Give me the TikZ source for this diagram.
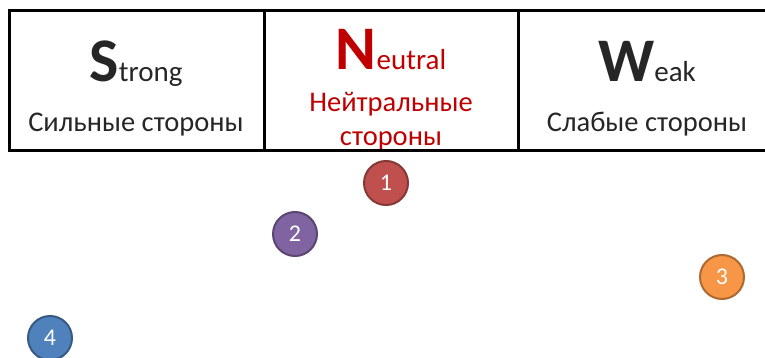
\documentclass[tikz,border=0pt]{standalone}
\usepackage{fontspec}
\setmainfont{Carlito}
\definecolor{txtgray}{HTML}{262626}
\definecolor{neutralred}{HTML}{C00000}
\definecolor{badgered}{HTML}{C0504D}
\definecolor{badgepurple}{HTML}{8064A2}
\definecolor{badgeorange}{HTML}{F79646}
\definecolor{badgeblue}{HTML}{4F81BD}
\newcommand{\bigletter}[1]{{\fontsize{62}{62}\selectfont\bfseries #1}}
\newcommand{\smallword}{\fontsize{29}{29}\selectfont}
\begin{document}
\begin{tikzpicture}[x=1pt,y=-1pt,
  head/.style={anchor=base,inner sep=0pt,text=txtgray},
  subtitle/.style={anchor=base,inner sep=0pt,text=txtgray,font=\fontsize{28.5}{28.5}\selectfont},
  badge/.style={circle,draw=#1!70!black,fill=#1,line width=2pt,minimum size=44pt,
    inner sep=0pt,text=white,font=\fontsize{24}{24}\selectfont}]
  \useasboundingbox (0,0) rectangle (765,358);
  % column headings
  \node[head] (strong) at (136,82) {\bigletter{S}\smallword trong};
  \node[subtitle] (strongsub) at (136,132) {Сильные стороны};
  \node[head,text=neutralred] (neutral) at (391,70) {\bigletter{N}\smallword eutral};
  \node[subtitle,text=neutralred] (neutralsub) at (391,112) {Нейтральные};
  \node[subtitle,text=neutralred] (neutralsub2) at (391,146) {стороны};
  \node[head] (weak) at (647,82) {\bigletter{W}\smallword eak};
  \node[subtitle] (weaksub) at (647,132) {Слабые стороны};
  % table lines
  \draw[line width=3pt] (9,11) -- (765,11);
  \draw[line width=3pt] (9,151) -- (765,151);
  \draw[line width=3pt] (9,9.5) -- (9,152.5);
  \draw[line width=3pt] (264,11) -- (264,151);
  \draw[line width=3pt] (518,11) -- (518,151);
  % numbered points
  \node[badge=badgered] (p1) at (386,183) {1};
  \node[badge=badgepurple] (p2) at (295,234) {2};
  \node[badge=badgeorange] (p3) at (722,277) {3};
  \node[badge=badgeblue] (p4) at (50,338) {4};
\end{tikzpicture}
\end{document}
